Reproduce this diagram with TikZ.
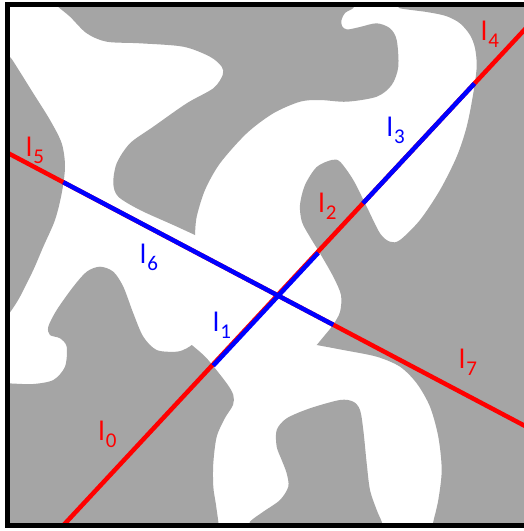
\documentclass[tikz,border=0pt]{standalone}
\usepackage{fontspec}
\setmainfont{Carlito}
\usetikzlibrary{calc}
\definecolor{bggray}{RGB}{165,165,165}
\newcommand\mylab[1]{l\kern1pt\raisebox{-7pt}{\fontsize{21}{21}\selectfont #1}}
\begin{document}
\begin{tikzpicture}[x=1pt,y=-1pt,
  lbl/.style={inner sep=0pt, font=\fontsize{28}{28}\selectfont},
  seg/.style={line width=4.5pt},
  region/.style={fill=bggray}]
\useasboundingbox (0,0) rectangle (523,531);
\fill[white] (0,0) rectangle (523,531);
\fill[black] (5,2) rectangle (530,528.3);
\begin{scope}
\clip (10,7) rectangle (530,522.7);
\fill[white] (10,7) rectangle (530,522.7);
% G1 top region with tongue
\fill[region] (54,0) -- plot[smooth] coordinates {(54,2) (58.3,7) (70,16.7) (86.7,33.3) (106.7,41.7) (140,43.3) (183.3,46.7) (210,56.7) (221.7,66.7) (222.7,75) (213.3,88.3) (186.7,103.3) (153.3,126.7) (130,143.3) (116.7,163.3) (113.3,183.3) (118.3,196.7) (140,210) (173.3,225) (195,235)}
  -- plot[smooth] coordinates {(195,235) (196.7,216.7) (205,190) (220,163.3) (246.7,133.3) (273.3,113.3) (300,101.7) (320,100) (346.7,101.7) (376.7,96.7) (391.7,85) (398.3,66.7) (396.7,40) (390,28.3) (376.7,23.3) (360,27) (347,29.5) (342,26) (341.5,20) (345,13) (353,8.3) (356,3)} -- (356,0) -- cycle;
% G2 left
\fill[region] (0,50) -- (8,55) -- plot[smooth] coordinates {(8,55) (11.7,59) (20,72) (33.3,93.3) (50,120) (61.7,143.3) (65,166.7) (61.7,193.3) (55,220) (43.3,246.7) (33.3,270) (20,296.7) (11.7,310) (7,316)} -- (0,320) -- cycle;
% G4 bottom left
\fill[region] (0,383) -- plot[smooth] coordinates {(5,383) (11.7,383.5) (33.3,384) (53.3,380) (65,366.7) (66.7,346.7) (60,338.3) (50,335) (48.3,326.7) (56.7,310) (73.3,286.7) (86.7,271.7) (100,266.7) (113.3,271.7) (123.3,286.7) (133.3,313.3) (143.3,336.7) (156.7,350) (176.7,351.7) (186.7,348.3) (191.7,345)}
  -- plot[smooth] coordinates {(191.7,345) (206.7,358.3) (226.7,383.3) (233.3,395) (233,405) (225,418) (216.7,436.7) (213.3,463.3) (213.3,486.7) (216,505) (218.3,521.7) (219,530)} -- (0,530) -- cycle;
% G5 bottom middle
\fill[region] plot[smooth] coordinates {(250,530) (250,521.7) (263.3,511.7) (280,500) (288.3,486.7) (286.7,473.3) (281.7,460) (276.7,446.7) (276.7,430) (286.7,418.3) (310,408.3) (340,400) (353.3,401.7) (360,410) (363.3,430) (366.7,463.3) (370,490) (376.7,510) (381.7,521.7) (383,530)} -- cycle;
% G3 right
\fill[region] (400,0) -- plot[smooth] coordinates {(400,5) (400,8.3) (426.7,12) (446,16) (460,23.3) (470,35) (475,48) (476.7,66.7) (473.3,93.3) (466.7,126.7) (456.7,156.7) (440,190) (420,220) (400,240) (390,241.7) (380,233.3) (366.7,206.7) (353.3,180) (340,161.7) (331.7,160) (316.7,167) (305,185) (300,205) (302,222) (310,237) (320,253.3) (333.3,276.7) (341,295) (340,312) (333,325) (325,335) (316.7,345)}
  -- plot[smooth] coordinates {(316.7,345) (343.3,350) (376.7,356.7) (400,366.7) (416.7,383.3) (430,406.7) (438.3,436.7) (441.7,470) (438.3,500) (433.3,521.7) (432,530)} -- (530,530) -- (530,0) -- cycle;
% lines
\coordinate (a0) at (62,526.75);
\coordinate (a1) at (212.5,365);
\coordinate (a2) at (317.5,252.2);
\coordinate (a3) at (363,203.3);
\coordinate (a4) at (474.5,83.5);
\coordinate (a5) at (530,23.8);
\coordinate (b0) at (5,151.5);
\coordinate (b1) at (63.3,182.2);
\coordinate (b2) at (333.3,324.8);
\coordinate (b3) at (530,428.6);
\draw[seg, red] (a0) -- (a5);
\draw[seg, red] (b0) -- (b3);
\draw[seg, blue] ($(a1)+(0.7,0.65)$) -- ($(a2)+(0.7,0.65)$);
\draw[seg, blue] (b1) -- (b2);
\draw[seg, blue] (a3) -- (a4);
\end{scope}
\node[lbl, text=red] (t0) at (107.5,434) {\mylab{0}};
\node[lbl, text=blue] (t1) at (222,325) {\mylab{1}};
\node[lbl, text=red] (t2) at (327.5,206.5) {\mylab{2}};
\node[lbl, text=blue] (t3) at (395.7,130) {\mylab{3}};
\node[lbl, text=red] (t4) at (490,34) {\mylab{4}};
\node[lbl, text=red] (t5) at (35,150) {\mylab{5}};
\node[lbl, text=blue] (t6) at (149,257.5) {\mylab{6}};
\node[lbl, text=red] (t7) at (468,362.5) {\mylab{7}};
\end{tikzpicture}
\end{document}
